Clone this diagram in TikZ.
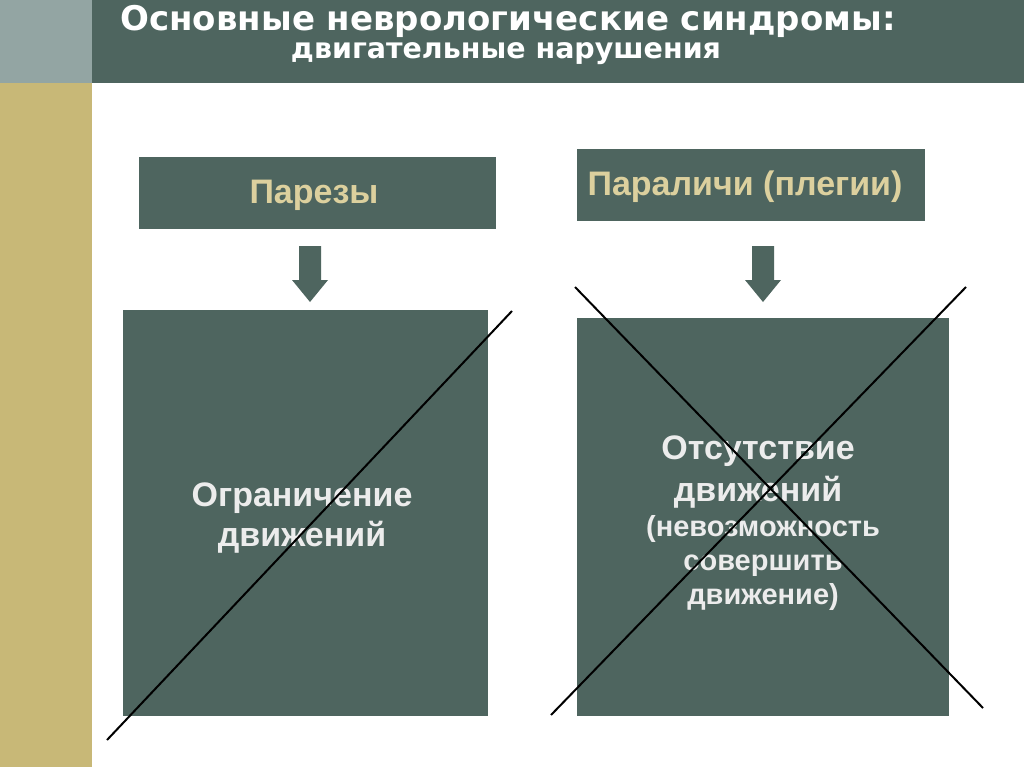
\documentclass[tikz,border=0pt]{standalone}
\usepackage{fontspec}
\setmainfont{Liberation Sans}
\newfontfamily\ttl{DejaVu Sans}
\definecolor{hdr}{HTML}{4E655F}
\definecolor{olive}{HTML}{C8B877}
\definecolor{tan}{HTML}{DCD09E}
\definecolor{lt}{HTML}{ECECEC}
\definecolor{photo}{HTML}{93A5A3}
\begin{document}
\begin{tikzpicture}[x=1pt,y=-1pt,
  box/.style={fill=hdr,draw=none},
  dnarrow/.pic={\fill[hdr] (-11,-28) -- (11,-28) -- (11,6) -- (18,6) -- (0,28) -- (-18,6) -- (-11,6) -- cycle;}]
\fill[white] (0,0) rectangle (1024,767);
\useasboundingbox (0,0) rectangle (1024,767);
\fill[photo] (0,0) rectangle (92,83);
\fill[olive] (0,83) rectangle (92,767);
\fill[hdr] (92,0) rectangle (1024,83);
\node[text=white,font=\ttl\bfseries\fontsize{34}{36}\selectfont] (t1) at (508,21) {Основные неврологические синдромы:};
\node[text=white,font=\ttl\bfseries\fontsize{28.5}{30}\selectfont] (t2) at (506,54) {двигательные нарушения};
\fill[box] (139,157) rectangle (496,229);
\node[text=tan,font=\bfseries\fontsize{34}{36}\selectfont] (p1) at (314,195) {Парезы};
\fill[box] (577,149) rectangle (925,221);
\node[text=tan,font=\bfseries\fontsize{34}{36}\selectfont] (p2) at (745,187) {Параличи (плегии)};
\pic at (310,274) {dnarrow};
\pic at (763,274) {dnarrow};
\fill[box] (123,310) rectangle (488,716);
\fill[box] (577,318) rectangle (949,716);
\node[text=lt,font=\bfseries\fontsize{34}{40}\selectfont,align=center] (b1) at (302,518) {Ограничение\\движений};
\node[text=lt,font=\bfseries\fontsize{34}{42}\selectfont,align=center] (b2a) at (758,472) {Отсутствие\\движений};
\node[text=lt,font=\bfseries\fontsize{29}{34}\selectfont,align=center] (b2b) at (763,563) {(невозможность\\совершить\\движение)};
\coordinate (l1) at (107,740); \coordinate (l2) at (512,311);
\coordinate (r1) at (575,287); \coordinate (r2) at (983,708);
\coordinate (r3) at (551,715); \coordinate (r4) at (966,287);
\draw[line width=2pt] (l1) -- (l2);
\draw[line width=2pt] (r1) -- (r2);
\draw[line width=2pt] (r3) -- (r4);
\end{tikzpicture}
\end{document}
